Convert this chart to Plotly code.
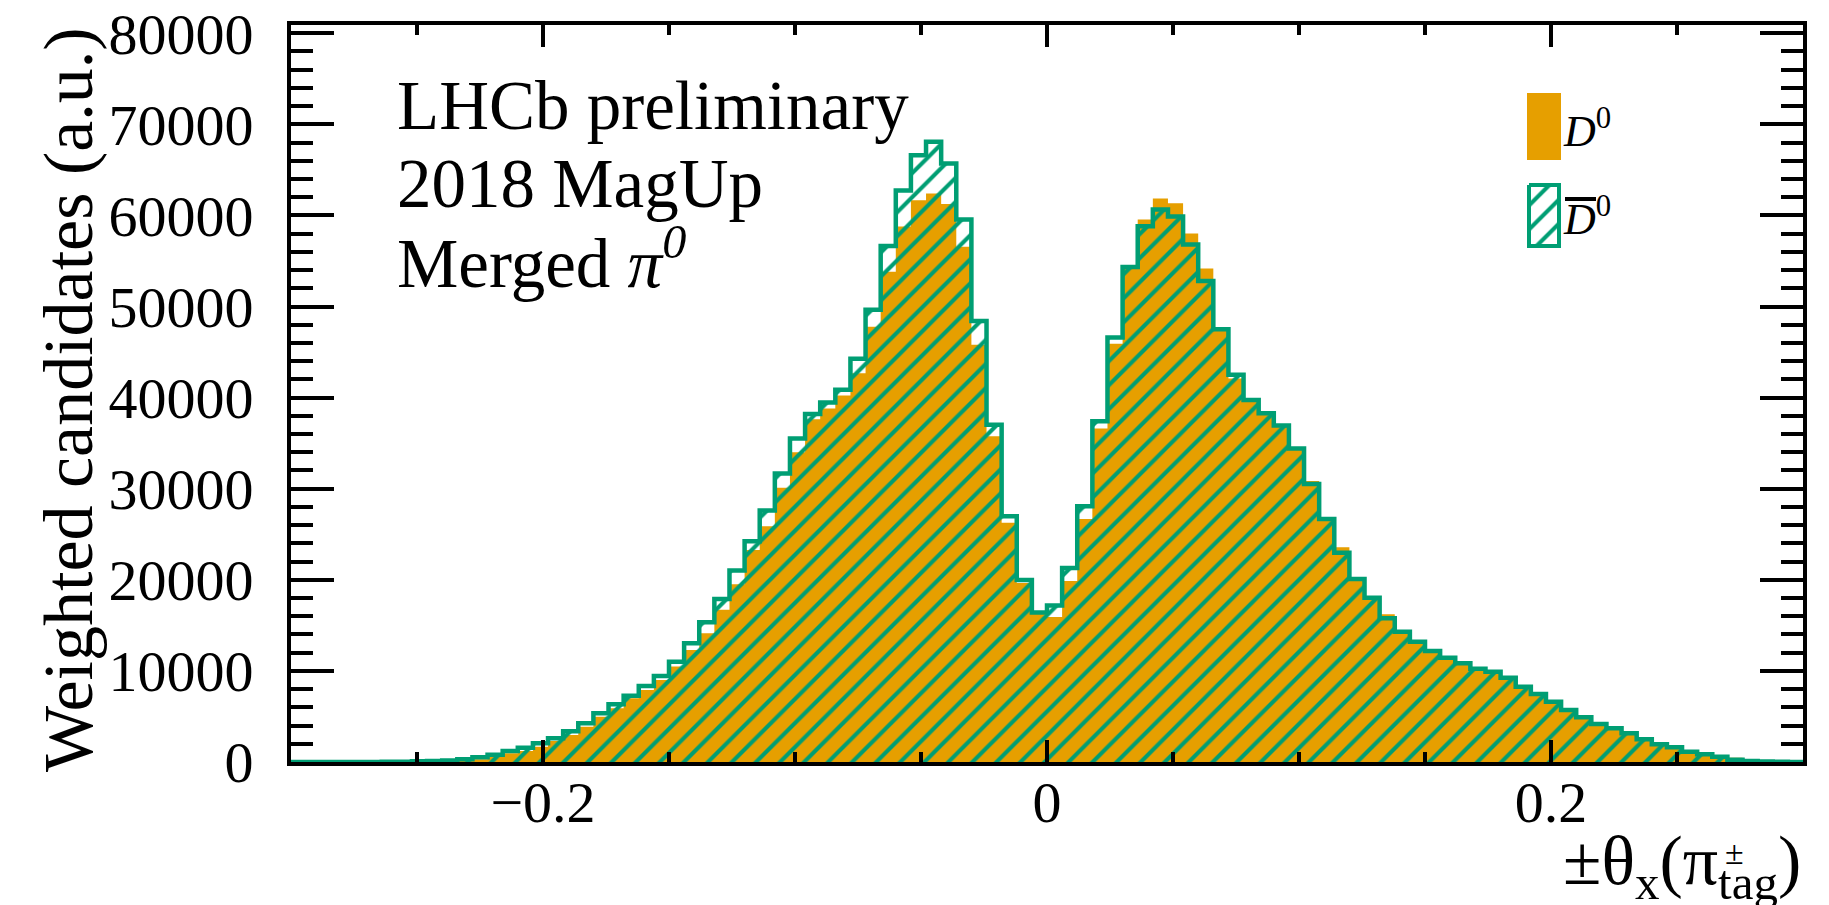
import numpy as np
import plotly.graph_objects as go

# Binning of the ±θx(π±tag) distribution
X_MIN, X_MAX, N_BINS = -0.3, 0.3, 100

# Weighted candidates per bin
d0_counts = [
    0, 0, 0, 0, 0, 0, 10, 30, 50, 80,
    120, 150, 290, 590, 950, 1210, 1680, 2300, 2960, 3880,
    4980, 5890, 6990, 7900, 9000, 10470, 12290, 14130, 16700, 19520,
    23280, 25870, 30110, 34010, 37630, 38800, 40220, 42660, 47790, 53820,
    58770, 61650, 62410, 61250, 56570, 45800, 35770, 26270, 19650, 16350,
    15930, 19860, 26670, 36600, 45900, 54460, 59560, 61850, 61320, 58020,
    54160, 47470, 42110, 39740, 38300, 36950, 34400, 30850, 26670, 23560,
    20090, 18040, 16210, 14310, 13210, 12180, 11450, 10830, 10230, 9920,
    9260, 8270, 7460, 6620, 5710, 4900, 4170, 3700, 3330, 2490,
    2100, 1610, 1320, 1060, 700, 480, 220, 90, 40, 10,
]
d0bar_counts = [
    0, 0, 0, 0, 0, 0, 20, 40, 70, 110,
    170, 300, 520, 800, 1210, 1570, 2050, 2600, 3370, 4240,
    5340, 6330, 7280, 8340, 9440, 11010, 13030, 15330, 17900, 21030,
    24230, 27610, 31660, 35510, 38190, 39460, 40850, 44260, 49650, 56630,
    62720, 66590, 68080, 65710, 59550, 48400, 37010, 26970, 19980, 16420,
    17170, 21300, 28080, 37400, 46600, 54330, 58800, 60660, 59870, 56800,
    52800, 47500, 42520, 39740, 38280, 36950, 34400, 30520, 26670, 22980,
    20090, 18040, 15770, 14310, 13210, 12180, 11450, 10830, 10230, 9920,
    9260, 8270, 7460, 6620, 5710, 4900, 4170, 3700, 3150, 2490,
    1940, 1610, 1130, 840, 590, 260, 120, 60, 30, 10,
]

Y_MAX = 80900
ORANGE = "#E69F00"
GREEN = "#009E73"
SERIF = "Liberation Serif"

# Frame of the plotting area in page pixels
L, R, T, B = 291, 1803, 25, 762


def px(x):
    return (x - L) / (R - L)


def py(y):
    return (B - y) / (B - T)


edges = np.linspace(X_MIN, X_MAX, N_BINS + 1)


def step(counts):
    """Histogram outline: one point per left bin edge plus the last right edge."""
    xs = list(edges)
    ys = list(counts) + [counts[-1]]
    return xs, ys


HATCH = dict(shape="/", fgcolor=GREEN, bgcolor="rgba(0,0,0,0)",
             size=17, solidity=0.24, fillmode="overlay", fgopacity=1)

fig = go.Figure()

xs, ys = step(d0_counts)
fig.add_trace(go.Scatter(
    x=xs, y=ys, mode="lines", line=dict(shape="hv", width=0, color=ORANGE),
    fill="tozeroy", fillcolor=ORANGE, hoverinfo="skip", name="D0",
))

xs, ys = step(d0bar_counts)
fig.add_trace(go.Scatter(
    x=xs, y=ys, mode="lines", line=dict(shape="hv", width=4.5, color=GREEN),
    fill="tozeroy", fillcolor="rgba(0,0,0,0)", fillpattern=HATCH,
    hoverinfo="skip", name="D0bar",
))

# Legend swatches, drawn on a pixel-scaled overlay
fig.add_trace(go.Scatter(
    x=[1527, 1561, 1561, 1527, 1527], y=[93, 93, 160, 160, 93],
    mode="lines", line=dict(width=0, color=ORANGE), fill="toself", fillcolor=ORANGE,
    xaxis="x2", yaxis="y2", hoverinfo="skip",
))
fig.add_trace(go.Scatter(
    x=[1529, 1559, 1559, 1529, 1529], y=[185, 185, 246, 246, 185],
    mode="lines", line=dict(width=4, color=GREEN), fill="toself",
    fillcolor="rgba(0,0,0,0)", fillpattern=HATCH,
    xaxis="x2", yaxis="y2", hoverinfo="skip",
))

axis_common = dict(
    showline=True, linewidth=4, linecolor="black", mirror="allticks",
    ticks="inside", tickwidth=4, tickcolor="black",
    showgrid=False, zeroline=False, automargin=False,
    tickfont=dict(family=SERIF, size=58, color="black"),
)

fig.update_layout(
    width=1829, height=905, autosize=False,
    margin=dict(l=L, r=1829 - R, t=T, b=905 - B, pad=0, autoexpand=False),
    paper_bgcolor="white", plot_bgcolor="white",
    showlegend=False,
    font=dict(family=SERIF, color="black"),
    xaxis=dict(
        range=[X_MIN, X_MAX], tick0=0, dtick=0.2, ticklen=22,
        minor=dict(tick0=0, dtick=0.05, ticklen=10, tickwidth=4,
                   tickcolor="black", ticks="inside"),
        ticklabelstandoff=-14,
        **axis_common,
    ),
    yaxis=dict(
        range=[0, Y_MAX], tick0=0, dtick=10000, ticklen=43, tickformat="d",
        minor=dict(tick0=0, dtick=2000, ticklen=22, tickwidth=4,
                   tickcolor="black", ticks="inside"),
        ticklabelstandoff=22,
        **axis_common,
    ),
    xaxis2=dict(overlaying="x", range=[L, R], visible=False),
    yaxis2=dict(overlaying="y", range=[B, T], visible=False),
)

ann = []
# Y-axis title
ann.append(dict(text="Weighted candidates (a.u.)", textangle=-90,
                x=px(68), y=py(400), xanchor="center", yanchor="middle",
                font=dict(size=70)))
# X-axis title
ann.append(dict(text="±θ<sub>x</sub>(π<sub>tag</sub>)",
                x=1.0, y=py(820), xanchor="right", yanchor="top",
                font=dict(size=70)))
ann.append(dict(text="±", x=px(1734), y=py(852), xanchor="center",
                yanchor="middle", font=dict(size=34)))
# Labels in the top-left corner
ann.append(dict(text="LHCb preliminary", x=px(395), y=py(146),
                xanchor="left", yanchor="bottom", font=dict(size=69)))
ann.append(dict(text="2018 MagUp", x=px(395), y=py(224),
                xanchor="left", yanchor="bottom", font=dict(size=69)))
ann.append(dict(text="Merged <i>π<sup>0</sup></i>", x=px(395), y=py(304),
                xanchor="left", yanchor="bottom", font=dict(size=69)))
# Legend labels
ann.append(dict(text="<i>D</i><sup>0</sup>", x=px(1561), y=py(157.5),
                xanchor="left", yanchor="bottom", font=dict(size=44)))
ann.append(dict(text="<i>D</i><sup>0</sup>", x=px(1561), y=py(245.5),
                xanchor="left", yanchor="bottom", font=dict(size=44)))
for a in ann:
    a.update(xref="paper", yref="paper", showarrow=False)
fig.update_layout(annotations=ann)

# Bar over the second D
fig.add_shape(type="line", xref="x2", yref="y2", x0=1565, x1=1596, y0=199, y1=199,
              line=dict(color="black", width=4))

fig.write_html("out.html")
